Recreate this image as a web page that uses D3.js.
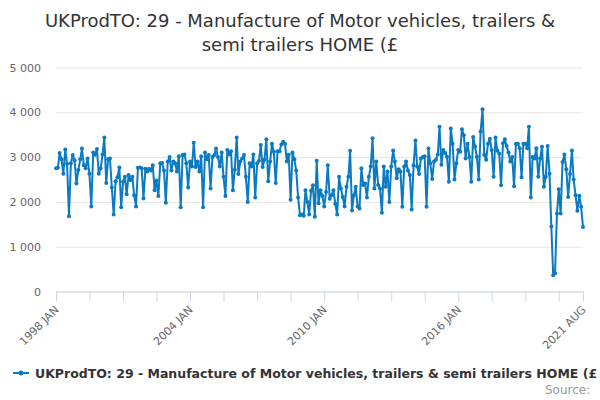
<!DOCTYPE html>
<html>
<head>
<meta charset="utf-8">
<script src="https://cdn.jsdelivr.net/npm/d3@7"></script>
<style>
  body { margin: 0; background: #fff; }
  svg { display: block; font-family: "DejaVu Sans", sans-serif; }
</style>
</head>
<body>
<div id="container"></div>
<script>
const titleLines = ["UKProdTO: 29 - Manufacture of Motor vehicles, trailers &", "semi trailers HOME (£"];
const seriesName = "UKProdTO: 29 - Manufacture of Motor vehicles, trailers & semi trailers HOME (£";
const firstMonth = "1998-01";
// one row per year, Jan..Dec
const production = [
  2750, 2760, 3090, 2950, 2630, 3170, 2850, 1680, 2860, 3045, 2930, 2410,
  2710, 2950, 3190, 2820, 2750, 2970, 2630, 1900, 3100, 3050, 3180, 2630,
  2750, 3060, 3440, 2420, 2950, 2970, 2320, 1720, 2460, 2550, 2770, 1880,
  2450, 2560, 2170, 2600, 2490, 2560, 2150, 1900, 2760, 2770, 2750, 2075,
  2740, 2680, 2740, 2700, 2820, 2260, 2480, 2130, 2860, 2870, 2700, 1980,
  2900, 3000, 2700, 2900, 2860, 2680, 3020, 1880, 3045, 3060, 2860, 2320,
  2900, 2790, 3320, 2780, 2900, 2680, 3020, 1880, 3100, 2950, 3045, 2300,
  3000, 3045, 3190, 3000, 2790, 3100, 2560, 2130, 3160, 3060, 3130, 2260,
  2720, 3440, 2620, 2900, 2970, 3045, 2560, 2000, 2860, 2790, 3060, 2100,
  2860, 2920, 3270, 2780, 2940, 3400, 2460, 2900, 3300, 3120, 2420, 3130,
  3130, 3280, 3340, 3300, 2900, 3050, 2050, 3100, 2950, 2700, 2100, 1700,
  1720, 1690, 2260, 2000, 1720, 2250, 2370, 1670, 2920, 1970, 2260, 2140,
  1900, 2220, 2820, 2070, 2150, 2260, 1960, 1720, 2560, 2300, 2110, 1900,
  2340, 2560, 3140, 1810, 2150, 2340, 1900, 1850, 2750, 2380, 2410, 2100,
  2560, 2790, 3420, 2300, 2900, 2380, 2300, 1760, 2790, 2340, 2680, 2000,
  2790, 3150, 2900, 2530, 2730, 2680, 1890, 2790, 2900, 2700, 2600, 1830,
  2820, 3370, 2790, 2620, 2970, 3000, 3020, 1890, 3190, 2860, 2510, 2900,
  2940, 3060, 3680, 2830, 3160, 3090, 3010, 2450, 3640, 3300, 2500, 2860,
  3160, 3120, 3620, 3490, 2970, 3300, 3000, 2450, 3450, 3230, 3010, 2500,
  3570, 4070, 3050, 2940, 3300, 3410, 3160, 2560, 3440, 3140, 3080, 2370,
  3310, 3400, 3250, 3100, 2900, 3000, 2350, 3300, 3300, 3200, 2550, 3300,
  3300, 3200, 3680, 2100, 3000, 2970, 3200, 2560, 2970, 3230, 2340, 2560,
  3250, 2630, 1450, 360, 410, 1740, 2280, 1740, 2890, 3060, 2730, 2110,
  2620, 3150, 2500, 2150, 1800, 2140, 1890, 1440
];
const yTicks = [0, 1000, 2000, 3000, 4000, 5000];
const xTickLabels = ["1998 JAN", "2004 JAN", "2010 JAN", "2016 JAN", "2021 AUG"];

const width = 600, height = 400;
const plotLeft = 56, plotRight = 583, plotTop = 67.5, plotBottom = 291.5;
const lineColor = "#0a7bc2";

const start = d3.timeParse("%Y-%m")(firstMonth);
const data = production.map((v, i) => ({ date: d3.timeMonth.offset(start, i), value: v }));

const svg = d3.select("#container")
  .append("svg")
  .attr("width", width)
  .attr("height", height);

svg.append("rect").attr("width", width).attr("height", height).attr("fill", "#fff");

const x = d3.scaleTime()
  .domain(d3.extent(data, d => d.date))
  .range([plotLeft, plotRight]);

const y = d3.scaleLinear()
  .domain([0, 5000])
  .range([plotBottom, plotTop]);

// title
svg.append("text")
  .attr("x", width / 2)
  .attr("text-anchor", "middle")
  .style("font-size", "18px")
  .attr("fill", "#333")
  .selectAll("tspan")
  .data(titleLines)
  .enter()
  .append("tspan")
  .attr("x", width / 2)
  .attr("y", (d, i) => 27 + i * 24)
  .text(d => d);

// y grid + labels
const fmtY = v => d3.format(",")(v).replace(/,/g, " ");
const yAxis = svg.append("g")
  .attr("transform", `translate(${plotLeft},0)`)
  .call(d3.axisLeft(y).tickValues(yTicks).tickSize(-(plotRight - plotLeft)).tickPadding(15).tickFormat(fmtY));
yAxis.select(".domain").remove();
yAxis.selectAll("line").attr("stroke", "#e6e6e6");
yAxis.selectAll("text").attr("fill", "#666").style("font-size", "11px").attr("font-family", "DejaVu Sans");

// x axis
const tickDates = d3.range(0, data.length, 18).map(i => data[i].date);
tickDates.push(data[data.length - 1].date);
const fmtX = d => (d3.timeFormat("%Y ")(d) + d3.timeFormat("%b")(d).toUpperCase());

const xAxis = svg.append("g")
  .attr("transform", `translate(0,${plotBottom})`)
  .call(d3.axisBottom(x).tickValues(tickDates).tickSize(10).tickSizeOuter(0)
    .tickFormat(d => xTickLabels.includes(fmtX(d)) ? fmtX(d) : ""));
xAxis.select(".domain").attr("stroke", "#ccd6eb");
xAxis.selectAll("line").attr("stroke", "#ccd6eb");
xAxis.selectAll("text")
  .attr("fill", "#666")
  .style("font-size", "11px")
  .attr("font-family", "DejaVu Sans")
  .attr("text-anchor", "end")
  .attr("y", 0)
  .attr("dy", 0)
  .attr("transform", "translate(3,19) rotate(-45)");

// series
const line = d3.line().x(d => x(d.date)).y(d => y(d.value));
svg.append("path")
  .datum(data)
  .attr("d", line)
  .attr("fill", "none")
  .attr("stroke", lineColor)
  .attr("stroke-width", 2)
  .attr("stroke-linejoin", "round");

svg.append("g")
  .selectAll("circle")
  .data(data)
  .enter()
  .append("circle")
  .attr("cx", d => x(d.date))
  .attr("cy", d => y(d.value))
  .attr("r", 2)
  .attr("fill", lineColor);

// legend
const legend = svg.append("g").attr("transform", "translate(0,373)");
legend.append("line")
  .attr("x1", 13).attr("x2", 29).attr("y1", 0).attr("y2", 0)
  .attr("stroke", lineColor).attr("stroke-width", 2);
legend.append("circle").attr("cx", 21).attr("cy", 0).attr("r", 2.5).attr("fill", lineColor);
legend.append("text")
  .attr("x", 35).attr("y", 5)
  .attr("fill", "#333")
  .style("font-size", "12.5px")
  .style("font-weight", "bold")
  .text(seriesName);

svg.append("text")
  .attr("x", 545).attr("y", 394)
  .attr("fill", "#999")
  .style("font-size", "12px")
  .text("Source:");
</script>
</body>
</html>
